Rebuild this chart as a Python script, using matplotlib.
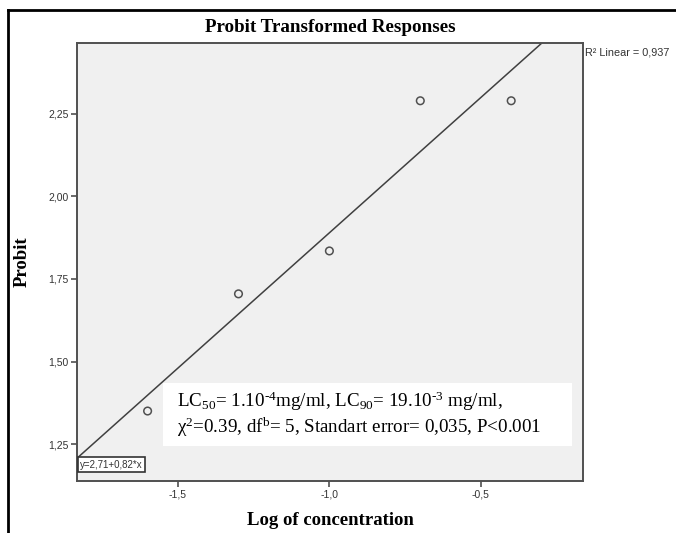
import matplotlib
matplotlib.use("Agg")
import matplotlib.pyplot as plt
from matplotlib.lines import Line2D
from matplotlib.ticker import FuncFormatter
import numpy as np

# data
log_conc = [-1.6, -1.3, -1.0, -0.7, -0.4]
probit = [1.35, 1.705, 1.835, 2.29, 2.29]
intercept, slope = 2.71, 0.82
r2 = 0.937
x_ticks = [-1.5, -1.0, -0.5]
y_ticks = [1.25, 1.50, 1.75, 2.00, 2.25]

plt.rcParams["mathtext.fontset"] = "custom"
plt.rcParams["mathtext.rm"] = "Liberation Serif"
plt.rcParams["mathtext.it"] = "Liberation Serif:italic"

fig = plt.figure(figsize=(6.76, 5.33), dpi=100)
W, H = 676, 533
ax = fig.add_axes([77 / W, 1 - 481 / H, (583 - 77) / W, (481 - 43) / H])
ax.set_facecolor("#f0f0f0")
ax.set_xlim(-1.833, -0.163)
ax.set_ylim(1.138, 2.465)

gray = "#505050"
for sp in ax.spines.values():
    sp.set_color(gray)
    sp.set_linewidth(1.4)

# fit line
xl = np.array(ax.get_xlim())
ax.plot(xl, intercept + slope * xl, color="#404040", lw=1.1, zorder=2)
ax.scatter(log_conc, probit, s=30, facecolors="none", edgecolors="#505050",
           linewidths=1.1, zorder=3)

comma = FuncFormatter(lambda v, p: f"{v:.1f}".replace(".", ","))
comma2 = FuncFormatter(lambda v, p: f"{v:.2f}".replace(".", ","))
ax.set_xticks(x_ticks)
ax.set_yticks(y_ticks)
ax.xaxis.set_major_formatter(comma)
ax.yaxis.set_major_formatter(comma2)
ax.tick_params(direction="out", length=4, width=1.2, color=gray,
               labelsize=7.5, labelcolor="#333333", pad=2)
for lab in ax.get_xticklabels() + ax.get_yticklabels():
    lab.set_family("Liberation Sans")

ax.set_title("Probit Transformed Responses", family="Liberation Serif",
             fontweight="bold", fontsize=13.7, pad=8)
ax.set_xlabel("Log of concentration", family="Liberation Serif",
              fontweight="bold", fontsize=13.5, labelpad=9)
ax.set_ylabel("Probit", family="Liberation Serif", fontweight="bold",
              fontsize=13.5, labelpad=13)

# R2 label outside the axes
ax.text(1.004, 0.978, f"R² Linear = {r2:.3f}".replace(".", ","),
        transform=ax.transAxes, fontsize=7.8, family="Liberation Sans",
        color="#333333", ha="left", va="center")

# equation box bottom left
ax.text(0.006, 0.026, f"y={intercept:.2f}+{slope:.2f}*x".replace(".", ","),
        transform=ax.transAxes, fontsize=7, family="Liberation Sans",
        color="#333333", ha="left", va="bottom",
        bbox=dict(boxstyle="square,pad=0.25", fc="white", ec="#333333", lw=1.2))

# white annotation box
box = plt.Rectangle(((163 - 77) / 506, (481 - 446) / 438), (572 - 163) / 506,
                    (446 - 383) / 438, transform=ax.transAxes, fc="white",
                    ec="none", zorder=4)
ax.add_patch(box)
ax.text((177 - 77) / 506, (481 - 407) / 438,
        r"LC$_{50}$= 1.10$^{\text{-4}}$mg/ml, LC$_{90}$= 19.10$^{\text{-3}}$ mg/ml,",
        transform=ax.transAxes, fontsize=13.7, family="Liberation Serif",
        ha="left", va="baseline", zorder=5)
ax.text((177 - 77) / 506, (481 - 433) / 438,
        r"χ$^{2}$=0.39, df$^{\mathrm{b}}$= 5, Standart error= 0,035, P<0.001",
        transform=ax.transAxes, fontsize=13.7, family="Liberation Serif",
        ha="left", va="baseline", zorder=5)

# page border lines
fig.add_artist(Line2D([8 / W, 8 / W], [0, 1 - 10 / H], color="black", lw=2))
fig.add_artist(Line2D([8 / W, 1], [1 - 10 / H, 1 - 10 / H], color="black", lw=2))

fig.savefig("out.png", dpi=100)
